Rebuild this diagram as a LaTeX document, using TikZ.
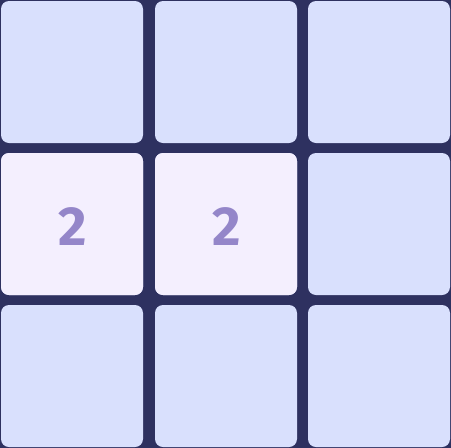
\documentclass[tikz,border=0pt]{standalone}
\usepackage{fontspec}
\setmainfont{Fira Sans}
\definecolor{bg}{HTML}{2E3160}
\definecolor{tile}{HTML}{D9E0FD}
\definecolor{hot}{HTML}{F4EFFE}
\definecolor{digit}{HTML}{9486C9}
\tikzset{
  tilebox/.style={fill=tile, rounded corners=8pt, draw=none},
  hotbox/.style={fill=hot, rounded corners=8pt, draw=none},
  num/.style={text=digit, font=\fontsize{55}{55}\selectfont\bfseries, inner sep=0pt}
}
\begin{document}
\begin{tikzpicture}[x=1pt,y=-1pt]
\fill[bg] (0,0) rectangle (451,448);
\useasboundingbox (0,0) rectangle (451,448);
\foreach \c/\x in {0/1,1/155,2/308}{
  \foreach \r/\y in {0/1,1/153,2/305}{
    \fill[tilebox] (\x,\y) rectangle ++(142,142);
  }
}
\fill[hotbox] (1,153) rectangle ++(142,142);
\fill[hotbox] (155,153) rectangle ++(142,142);
\node[num] (a) at (73,226.5) {2};
\node[num] (b) at (227,226.5) {2};
\end{tikzpicture}
\end{document}
